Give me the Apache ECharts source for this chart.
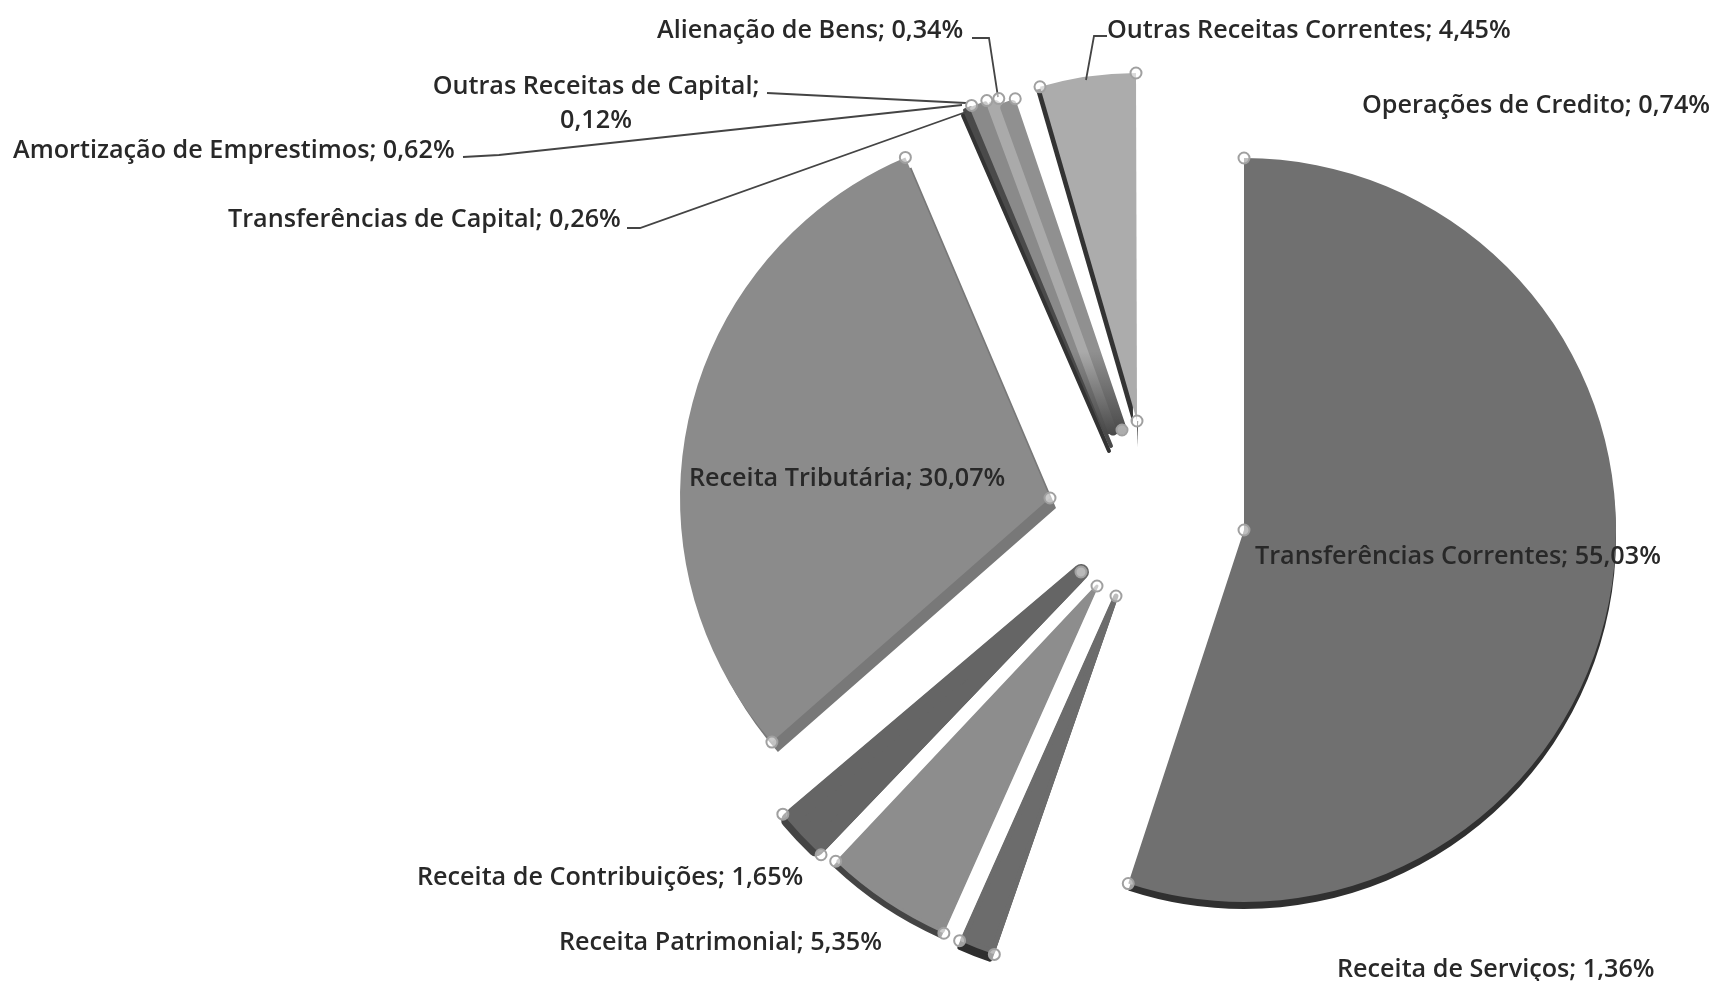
<!DOCTYPE html>
<html><head><meta charset="utf-8">
<style>html,body{margin:0;padding:0;background:#fff}#c{width:1715px;height:981px}</style>
<script src="https://cdn.jsdelivr.net/npm/echarts@6/dist/echarts.min.js"></script>
</head><body><div id="c"></div>
<script>
const categories = ['Transferências Correntes','Receita de Serviços','Receita Patrimonial','Receita de Contribuições','Receita Tributária','Transferências de Capital','Amortização de Emprestimos','Outras Receitas de Capital','Alienação de Bens','Outras Receitas Correntes','Operações de Credito'];
const values = [55.03,1.36,5.35,1.65,30.07,0.26,0.62,0.12,0.34,4.45,0.74];
const valueLabels = ['55,03%','1,36%','5,35%','1,65%','30,07%','0,26%','0,62%','0,12%','0,34%','4,45%','0,74%'];

// exploded position of each slice: center x, y, radius, angular shift
const sliceCx = [1244,1116,1097,1081,1050,1111,1107,1113,1122,1137,1137];
const sliceCy = [530,596,586,572,498,446,432,430,430,421,447];
const sliceR  = [372,376,378,376,370,366,350,345,343,348,26];
const sliceShift = [0,1,1,1.5,0.5,0,0,0,0,2.5,2.7];
const sliceColor = ['#707070','#6c6c6c','#8d8d8d','#656565','#8b8b8b','#4a4a4a','#8a8a8a','#aaaaaa','#909090','#acacac','#444444'];
// slices that fade to a dark tone near their tip
const fadeToDark = [0,0,0,0,0,0,1,1,1,0,0];
// extra width of a slice, painted in its own colour
const widen = [0,5,3,16,0,4,5,11,10,0,0];
// the dark side wall seen below a slice
const rimColor = ['#303030','#2e2e2e','#444444','#444444','#787878','#333333','#555555','#555555','#666666','#333333','#444444'];
const rimDx = [0,-3,-3,-5,6,-2,0,0,0,-4,0];
const rimDy = [7,8,5,5,10,5,0,0,0,3,0];
// label placement
const labelX = [1255,1337,559,417,689,228,13,596,657,1107,1362];
const labelY = [557,970,943,878,479,220,151,104,31,31,106];
const labelAlign = ['left','left','left','left','left','left','left','center','left','left','left'];
const labelBreak = [' ',' ',' ',' ',' ',' ',' ','\n',' ',' ',' '];
// which selection handles a slice shows
const handleApex  = [1,1,1,1,1,0,0,0,1,1,0];
const handleStart = [1,1,1,1,1,0,0,0,0,1,0];
const handleEnd   = [1,1,1,1,1,1,1,1,1,1,0];
// leader lines
const leaders = [
  [[972,38],[989,38],[998,97]],
  [[767,93],[966,103]],
  [[463,157],[499,155],[962,105]],
  [[627,228],[640,228],[966,112]],
  [[1107,36],[1094,36],[1086,80]]
];

const total = values.reduce((a,b)=>a+b,0);
function paint(color,fade){
  if(!fade)return color;
  return {type:'linear',x:0,y:0,x2:0,y2:1,colorStops:[{offset:0,color},{offset:0.75,color},{offset:1,color:'#484848'}]};
}
function pie(i,cx,cy,color,withLabel){
  const fill=paint(color,fadeToDark[i]);
  const style={color:fill,borderColor:fill,borderWidth:widen[i],borderJoin:'round'};
  return {
    type:'pie', silent:true, animation:false, clockwise:true,
    center:[cx,cy], radius:sliceR[i], startAngle:90-sliceShift[i],
    avoidLabelOverlap:false, minShowLabelAngle:0,
    labelLine:{show:false},
    labelLayout:p=>(withLabel&&p.dataIndex===i)?{x:labelX[i],y:labelY[i],align:labelAlign[i],verticalAlign:'middle',hideOverlap:false}:{},
    data:categories.map((n,j)=>({
      name:n, value:values[j],
      itemStyle:j===i?style:{color:'rgba(0,0,0,0)',borderWidth:0},
      label:{show:withLabel&&j===i,position:'inside',rotate:0,formatter:categories[i]+';'+labelBreak[i]+valueLabels[i],
        fontFamily:'Open Sans',fontWeight:600,fontSize:25.2,lineHeight:34,color:'#282828',align:labelAlign[i]}
    }))
  };
}
const series = categories.flatMap((name,i)=>{
  const out=[];
  if(rimDx[i]||rimDy[i])out.push(pie(i,sliceCx[i]+rimDx[i],sliceCy[i]+rimDy[i],rimColor[i],false));
  out.push(pie(i,sliceCx[i],sliceCy[i],sliceColor[i],true));
  return out;
});

// handle circles are derived from the same slice geometry
const graphic=[];
leaders.forEach(pts=>graphic.push({type:'polyline',z:20,shape:{points:pts},style:{stroke:'#444',lineWidth:1.8,fill:null}}));
let cum=0;
function handle(x,y){graphic.push({type:'circle',z:30,shape:{cx:x,cy:y,r:5.5},style:{fill:'rgba(255,255,255,0.55)',stroke:'#a0a0a0',lineWidth:2}});}
values.forEach((v,i)=>{
  const a0=(cum/total*360+sliceShift[i])*Math.PI/180, a1=((cum+v)/total*360+sliceShift[i])*Math.PI/180;
  cum+=v;
  const cx=sliceCx[i],cy=sliceCy[i],r=sliceR[i]+widen[i]/2,t=widen[i]/2;
  if(handleApex[i])handle(cx,cy);
  if(handleStart[i])handle(cx+r*Math.sin(a0)-t*Math.cos(a0),cy-r*Math.cos(a0)-t*Math.sin(a0));
  if(handleEnd[i])handle(cx+r*Math.sin(a1)+t*Math.cos(a1),cy-r*Math.cos(a1)+t*Math.sin(a1));
});

const chart=echarts.init(document.getElementById('c'),null,{renderer:'canvas'});
chart.setOption({backgroundColor:'#fff',animation:false,tooltip:{show:false},series,graphic});
</script></body></html>
